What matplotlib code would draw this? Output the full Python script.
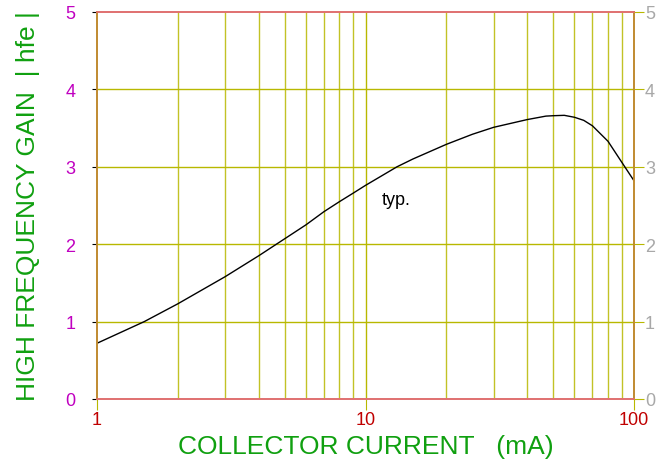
import numpy as np
import matplotlib.pyplot as plt

plt.rcParams['font.family'] = ['Liberation Sans', 'DejaVu Sans']

# collector current (mA) and |hfe|
ic = [1, 1.5, 2, 3, 4, 5, 6, 7, 8, 9, 10, 13.1, 15, 20, 25, 30, 40, 47, 50, 55, 60, 65, 70, 80, 90, 100]
hfe = [0.72, 1.0, 1.23, 1.58, 1.85, 2.07, 2.25, 2.42, 2.55, 2.66, 2.76, 3.0, 3.1, 3.29, 3.42, 3.51,
       3.61, 3.655, 3.66, 3.665, 3.64, 3.6, 3.53, 3.33, 3.06, 2.82]

xticks = [1, 10, 100]
xtick_labels = ['1', '10', '100']
yticks = [0, 1, 2, 3, 4, 5]

grid_col = '#b8b800'

fig = plt.figure(figsize=(6.59, 4.64), dpi=100)
ax = fig.add_axes([97/659, 64/464, 537/659, 387/464])

ax.set_xscale('log')
ax.set_xlim(1, 100)
ax.set_ylim(0, 5)

# grid lines
for d in [1, 10]:
    for m in range(2, 10):
        ax.axvline(d*m, color=grid_col, lw=1, alpha=0.85)
ax.axvline(10, color=grid_col, lw=1)
for y in [1, 2, 3, 4]:
    ax.axhline(y, color=grid_col, lw=1)

ax.plot(ic, hfe, color='black', lw=1)
ax.text(11.5, 2.52, 'typ.', fontsize=13, color='black', va='baseline')

ax.set_xticks(xticks)
ax.set_xticklabels(xtick_labels)
ax.set_xticks([], minor=True)
ax.set_yticks(yticks)
ax.tick_params(axis='x', colors='#c00000', labelsize=13, length=8, color=grid_col, direction='out', pad=1)
ax.tick_params(axis='y', left=False, right=False, labelcolor='#c000c0', labelsize=13, pad=12)

ax2 = ax.twinx()
ax2.set_ylim(0, 5)
ax2.set_yticks(yticks)
ax2.tick_params(axis='y', colors='#a8a8a8', labelsize=13, length=7, pad=1)
ax2.tick_params(axis='y', color=grid_col)

for a in (ax, ax2):
    a.spines['top'].set_color('#e07070')
    a.spines['bottom'].set_color('#e07070')
    a.spines['left'].set_color('#c08a30')
    a.spines['right'].set_color('#c08a30')
    for s in a.spines.values():
        s.set_linewidth(1.2)

ax.set_xlabel('COLLECTOR CURRENT   (mA)', color='#10a010', fontsize=19, labelpad=4)
ax.set_ylabel('HIGH FREQUENCY GAIN  | hfe |', color='#10a010', fontsize=19, labelpad=18)

fig.savefig('out.png', dpi=100)
